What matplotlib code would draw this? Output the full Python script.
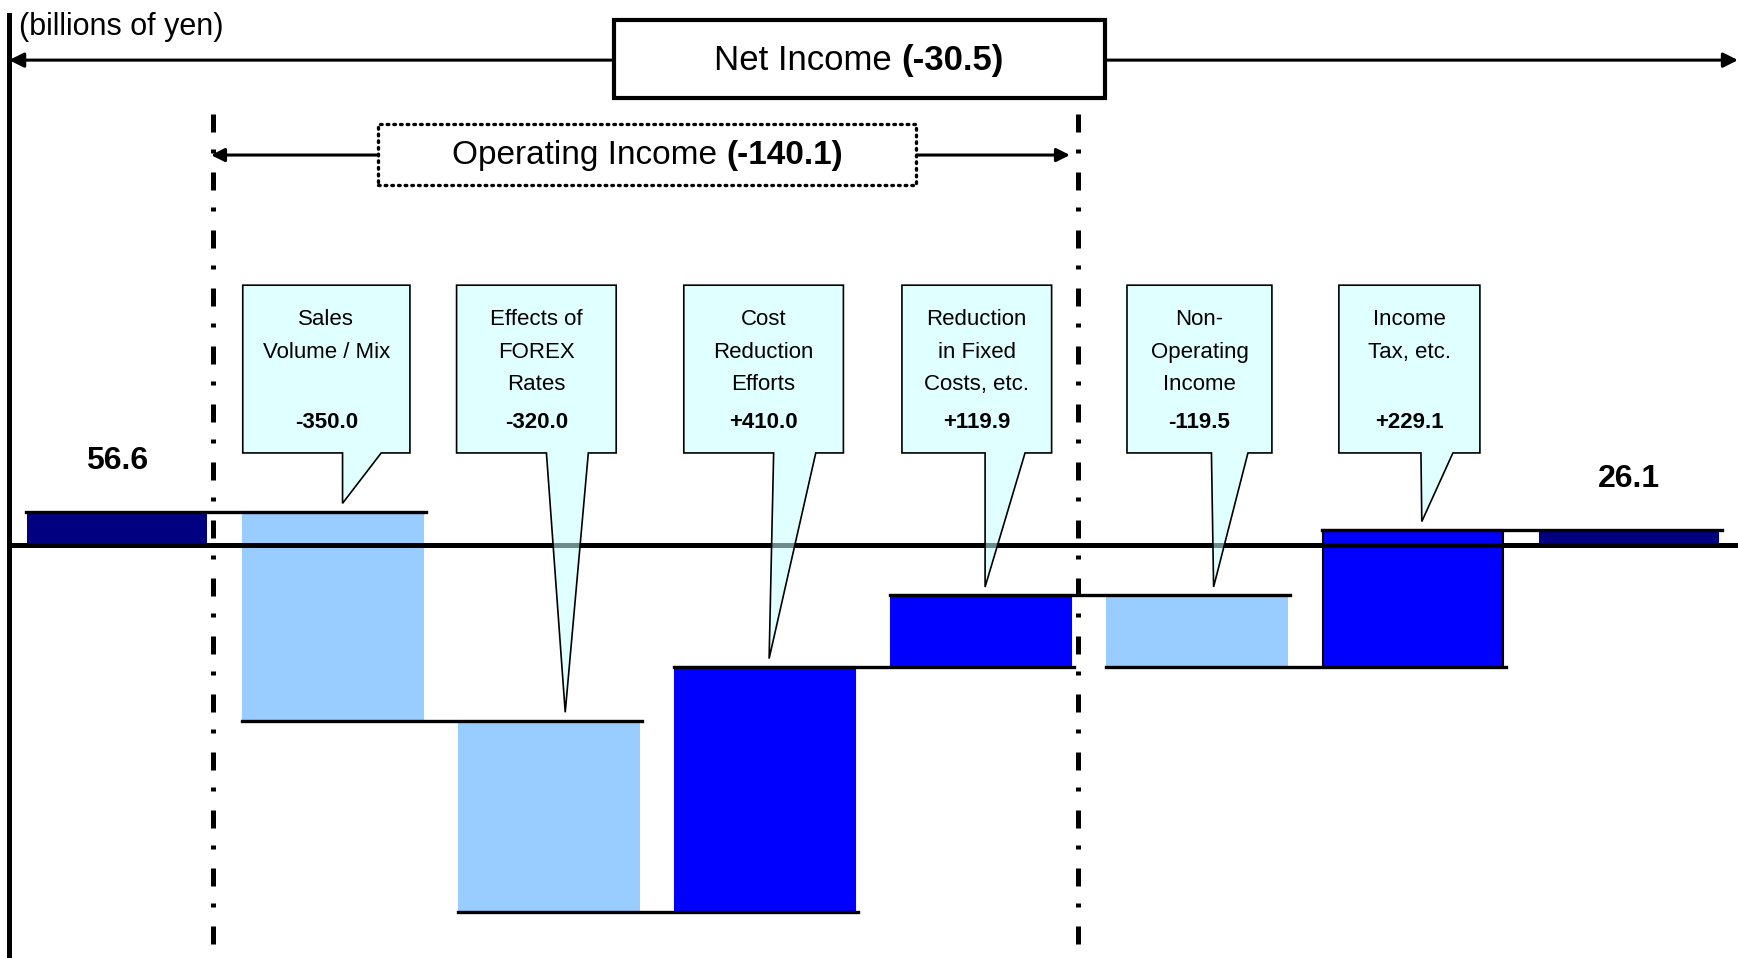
import numpy as np
import matplotlib
matplotlib.use("Agg")
import matplotlib.pyplot as plt
from matplotlib.patches import Polygon, Rectangle

plt.rcParams['font.family'] = ['Liberation Sans', 'DejaVu Sans']

# data (billions of yen)
start_value = 56.6
end_value = 26.1
changes = [-350.0, -320.0, 410.0, 119.9, -119.5, 229.1]
callout_labels = ['Sales\nVolume / Mix', 'Effects of\nFOREX\nRates', 'Cost\nReduction\nEfforts',
                  'Reduction\nin Fixed\nCosts, etc.', 'Non-\nOperating\nIncome', 'Income\nTax, etc.']
value_labels = ['-350.0', '-320.0', '+410.0', '+119.9', '-119.5', '+229.1']
net_income_change = '(-30.5)'
operating_income_change = '(-140.1)'

# callout shapes, offsets from bar centre: box left/right, pointer base left/right, tip
box_l = [-0.418, -0.428, -0.376, -0.366, -0.324, -0.343]
box_r = [0.356, 0.311, 0.363, 0.327, 0.347, 0.310]
base_l = [0.044, -0.012, 0.040, 0.019, 0.067, 0.037]
base_r = [0.223, 0.182, 0.235, 0.204, 0.236, 0.185]
tip_x = [0.044, 0.075, 0.019, 0.019, 0.077, 0.041]

navy = '#000080'
light = '#99CCFF'
blue = '#0000FF'

cum = np.concatenate([[start_value], start_value + np.cumsum(changes)])
n = len(changes)
width = 0.833

fig = plt.figure(figsize=(17.38, 9.58), dpi=100)
ax = fig.add_axes([0, 0, 1, 1])
ax.set_xlim(-0.542, 7.505)
ax.set_ylim(-691, 913.7)
ax.axis('off')

# start and end bars
ax.bar(0, start_value, width, color=navy, zorder=2)
ax.bar(n + 1, end_value, width, color=navy, zorder=2)

# change bars
for i, ch in enumerate(changes):
    x = i + 1
    lo = min(cum[i], cum[i + 1])
    col = blue if ch > 0 else light
    ec = 'black' if i == n - 1 else col
    ax.bar(x, abs(ch), width, bottom=lo, color=col, edgecolor=ec, linewidth=1.5, zorder=2)

# connector lines
for i in range(n + 1):
    ax.plot([i - 0.42, i + 1 + 0.43], [cum[i], cum[i]], color='black', lw=2.4, zorder=3)

# zero line and left axis
ax.plot([-0.5, 7.505], [0, 0], color='black', lw=3.6, zorder=3)
ax.plot([-0.5, -0.5], [-691, 888], color='black', lw=3.6, zorder=3)

# dash-dot separators
for xs in [0.444, 4.449]:
    ax.plot([xs, xs], [723, -691], color='black', lw=3.6, zorder=3,
            linestyle=(0, (3.6, 3.4, 0.8, 3.8)))

# start / end labels
ax.text(0, start_value + 85, '56.6', ha='center', va='center', fontsize=23, fontweight='bold')
ax.text(n + 1, end_value + 85, '26.1', ha='center', va='center', fontsize=23, fontweight='bold')

# callouts
box_top, box_bot = 436, 155
for i in range(n):
    x = i + 1
    top = max(cum[i], cum[i + 1]) + 14
    pts = [(x + box_l[i], box_top), (x + box_r[i], box_top), (x + box_r[i], box_bot),
           (x + base_r[i], box_bot), (x + tip_x[i], top), (x + base_l[i], box_bot),
           (x + box_l[i], box_bot)]
    ax.add_patch(Polygon(pts, closed=True, facecolor='#C8FFFF', alpha=0.55,
                         edgecolor='none', zorder=4))
    ax.add_patch(Polygon(pts, closed=True, fill=False, edgecolor='black', lw=1.2, zorder=5))
    cx = x + (box_l[i] + box_r[i]) / 2
    for j, line in enumerate(callout_labels[i].split('\n')):
        ax.text(cx, 378 - 54 * j, line, ha='center', va='center', fontsize=16, zorder=6)
    ax.text(cx, 206, value_labels[i], ha='center', va='center', fontsize=16,
            fontweight='bold', zorder=6)

# unit label
ax.text(-0.455, 868, '(billions of yen)', ha='left', va='center', fontsize=22)

# Net Income bracket
ax.add_patch(Rectangle((2.301, 750), 4.574 - 2.301, 880 - 750, facecolor='white',
                       edgecolor='black', lw=3, zorder=5))
ax.annotate('', xy=(-0.5, 813), xytext=(2.301, 813),
            arrowprops=dict(arrowstyle='-|>', color='black', lw=2.2, mutation_scale=22,
                            shrinkA=0, shrinkB=0))
ax.annotate('', xy=(7.505, 813), xytext=(4.574, 813),
            arrowprops=dict(arrowstyle='-|>', color='black', lw=2.2, mutation_scale=22,
                            shrinkA=0, shrinkB=0))
ax.text(3.63, 813, 'Net Income ', ha='right', va='center', fontsize=25, zorder=6)
ax.text(3.63, 813, net_income_change, ha='left', va='center', fontsize=25,
        fontweight='bold', zorder=6)

# Operating Income bracket
ax.add_patch(Rectangle((1.208, 604), 3.697 - 1.208, 706 - 604, facecolor='white',
                       edgecolor='black', lw=2.4, linestyle=(0, (0.5, 1.5)),
                       capstyle='round', zorder=5))
ax.annotate('', xy=(0.435, 654), xytext=(1.208, 654),
            arrowprops=dict(arrowstyle='-|>', color='black', lw=2.2, mutation_scale=20,
                            shrinkA=0, shrinkB=0))
ax.annotate('', xy=(4.412, 654), xytext=(3.697, 654),
            arrowprops=dict(arrowstyle='-|>', color='black', lw=2.2, mutation_scale=20,
                            shrinkA=0, shrinkB=0))
ax.text(2.82, 654, 'Operating Income ', ha='right', va='center', fontsize=24, zorder=6)
ax.text(2.82, 654, operating_income_change, ha='left', va='center', fontsize=24,
        fontweight='bold', zorder=6)

fig.savefig('out.png', dpi=100)
